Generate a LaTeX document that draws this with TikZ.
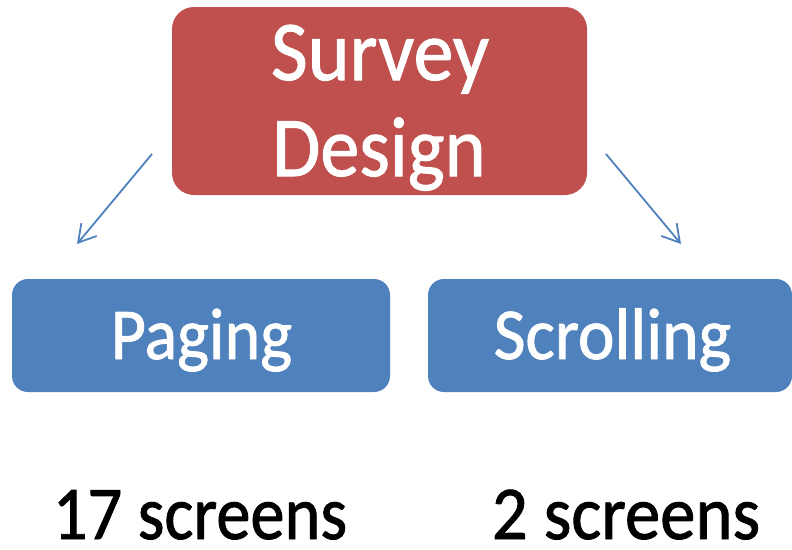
\documentclass[tikz,border=0pt]{standalone}
\usepackage{graphicx}
\usepackage{fontspec}
\setmainfont[FakeBold=1.2]{Carlito}
\usetikzlibrary{arrows.meta}
\definecolor{boxred}{HTML}{C0504D}
\definecolor{boxblue}{HTML}{4F81BD}
\begin{document}
\begin{tikzpicture}[x=1pt,y=-1pt,
  redbox/.style={fill=boxred, rounded corners=22pt, inner sep=0pt, draw=none},
  bluebox/.style={fill=boxblue, rounded corners=16pt, inner sep=0pt, draw=none},
  txt/.style={anchor=base, inner sep=0pt, text=white},
  btxt/.style={anchor=base, inner sep=0pt, text=black},
  link/.style={draw=boxblue, line width=1.8pt, -{Straight Barb[length=17pt,width=20pt]}}]
\useasboundingbox (0,0) rectangle (792,549);
\node[redbox, minimum width=415pt, minimum height=188pt] (survey) at (379.5,101) {};
\node[bluebox, minimum width=378pt, minimum height=113pt] (paging) at (201,335.5) {};
\node[bluebox, minimum width=364pt, minimum height=113pt] (scrolling) at (610,335.5) {};
\node[txt] (t1) at (380,80) {\fontsize{85}{96}\selectfont\scalebox{0.94}[1]{Survey}};
\node[txt] (t2) at (379,176) {\fontsize{85}{96}\selectfont\scalebox{0.92}[1]{Design}};
\node[txt] (t3) at (201.5,359) {\fontsize{73}{80}\selectfont\scalebox{0.93}[1]{Paging}};
\node[txt] (t4) at (612.5,359) {\fontsize{73}{80}\selectfont\scalebox{0.95}[1]{Scrolling}};
\node[btxt] (t5) at (200,539) {\fontsize{76}{80}\selectfont\scalebox{0.90}[1]{17 screens}};
\node[btxt] (t6) at (626,539) {\fontsize{76}{80}\selectfont\scalebox{0.93}[1]{2 screens}};
\coordinate (a1s) at (152,154);
\coordinate (a1e) at (77,244);
\coordinate (a2s) at (606,154);
\coordinate (a2e) at (681,244);
\draw[link] (a1s) -- (a1e);
\draw[link] (a2s) -- (a2e);
\end{tikzpicture}
\end{document}
